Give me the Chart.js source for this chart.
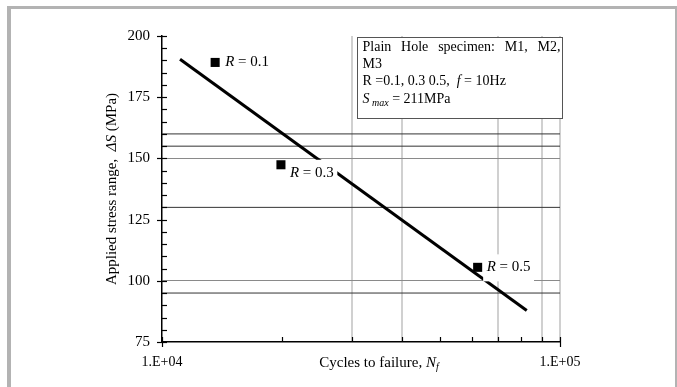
<!DOCTYPE html>
<html><head><meta charset="utf-8">
<script src="https://cdn.jsdelivr.net/npm/chart.js@4/dist/chart.umd.min.js"></script>
<style>html,body{margin:0;padding:0;background:#fff;overflow:hidden}#wrap{width:677px;height:387px;position:relative}</style>
</head><body><div id="wrap"><canvas id="c"></canvas></div>
<script>
// ---------------- data ----------------
const rRatios = [0.1, 0.3, 0.5];
const cyclesToFailure = [13600, 19900, 62100];
const stressRange = [189.2, 147.4, 105.5];
const fitCycles = [11100, 82500];
const fitStress = [190.5, 87.9];
const refLevels = [160, 155, 130, 95];
const gridLevels = [100, 150];
const xGridCycles = [30000, 40000, 70000, 90000, 100000];
const xLimits = [10000, 100000];
const yLimits = [75, 200];
const yTickStep = 25;
const yMinorStep = 5;
const xTickValues = [10000, 100000];
const xTickLabels = ['1.E+04', '1.E+05'];
const noteLine1 = 'Plain Hole specimen: M1, M2,';
const noteLine2 = 'M3';
const loadFrequencyHz = 10;
const sMaxMPa = 211;
const yTitleMain = 'Applied stress range,  ';
const xTitleMain = 'Cycles to failure, ';

// ---------------- style ----------------
const SERIF = '"Liberation Serif", "Times New Roman", serif';
const labelOffsets = [[10, 0], [9, 8], [9, 0]];

function fnt(s) { return (s.italic ? 'italic ' : '') + (s.size || 15) + 'px ' + SERIF; }
function measureRich(ctx, segs) {
  let w = 0;
  segs.forEach(s => { ctx.font = fnt(s); s.w = ctx.measureText(s.t).width; w += s.w; });
  return w;
}
function drawRich(ctx, segs, x, y, align) {
  const w = measureRich(ctx, segs);
  let cx = align === 'center' ? x - w / 2 : x;
  segs.forEach(s => { ctx.font = fnt(s); ctx.fillText(s.t, cx, y + (s.dy || 0)); cx += s.w; });
  return w;
}

const decor = {
  id: 'decor',
  beforeDraw(chart) {
    const ctx = chart.ctx;
    ctx.save();
    ctx.fillStyle = '#fff';
    ctx.fillRect(0, 0, chart.width, chart.height);
    ctx.fillStyle = '#b3b3b3';
    ctx.fillRect(7, 6, 670, 3);
    ctx.fillRect(7, 6, 4, 381);
    ctx.fillRect(675, 6, 2, 381);
    ctx.restore();
  },
  afterDatasetsDraw(chart) {
    const ctx = chart.ctx;
    const xs = chart.scales.x, ys = chart.scales.y;
    const x0 = xs.left, y0 = ys.bottom;
    ctx.save();
    // tick marks
    ctx.strokeStyle = '#000';
    ctx.lineWidth = 1.2;
    for (let v = yLimits[0]; v <= yLimits[1]; v += yMinorStep) {
      const p = Math.round(ys.getPixelForValue(v)) + 0.5;
      const major = v % yTickStep === 0;
      ctx.beginPath(); ctx.moveTo(major ? x0 - 5 : x0, p); ctx.lineTo(x0 + 5, p); ctx.stroke();
    }
    for (let k = 1; k <= 10; k++) {
      const v = k * xLimits[0];
      const p = Math.round(xs.getPixelForValue(v)) + 0.5;
      const major = xTickValues.includes(v);
      ctx.beginPath(); ctx.moveTo(p, major ? y0 + 5 : y0); ctx.lineTo(p, y0 - 5); ctx.stroke();
    }

    // R labels with white background
    ctx.textBaseline = 'middle';
    ctx.fillStyle = '#000';
    rRatios.forEach((r, i) => {
      const px = xs.getPixelForValue(cyclesToFailure[i]) + labelOffsets[i][0];
      const py = ys.getPixelForValue(stressRange[i]) + labelOffsets[i][1];
      const segs = [{ t: 'R', italic: true, size: 15 }, { t: ' = ' + r.toFixed(1), size: 15 }];
      const w = measureRich(ctx, segs);
      ctx.fillStyle = '#fff';
      ctx.fillRect(px - 3.5, py - 13, w + 7, 27);
      ctx.fillStyle = '#000';
      drawRich(ctx, segs, px, py, 'left');
    });

    // axis titles
    ctx.save();
    ctx.translate(112, (ys.top + ys.bottom) / 2);
    ctx.rotate(-Math.PI / 2);
    drawRich(ctx, [{ t: yTitleMain, size: 15 }, { t: 'ΔS', italic: true, size: 15 }, { t: ' (MPa)', size: 15 }], 0, 0, 'center');
    ctx.restore();
    ctx.textBaseline = 'alphabetic';
    drawRich(ctx, [{ t: xTitleMain, size: 15 }, { t: 'N', italic: true, size: 15 }, { t: 'f', italic: true, size: 10, dy: 3 }], 379, 367, 'center');

    // note box
    const bx = 357, by = 37, bw = 205, bh = 81;
    ctx.fillStyle = '#fff';
    ctx.fillRect(bx, by, bw, bh);
    ctx.strokeStyle = '#555';
    ctx.lineWidth = 1;
    ctx.strokeRect(bx + 0.5, by + 0.5, bw, bh);
    ctx.save();
    ctx.beginPath(); ctx.rect(bx + 1, by + 1, bw - 1, bh - 1); ctx.clip();
    ctx.fillStyle = '#000';
    const fs = 14;
    const left = bx + 5.5, right = bx + bw - 1.5;
    const words = noteLine1.split(' ');
    ctx.font = fnt({ size: fs });
    const ww = words.map(w => ctx.measureText(w).width);
    const gap = (right - left - ww.reduce((a, b) => a + b, 0)) / (words.length - 1);
    let cx = left;
    words.forEach((w, i) => { ctx.fillText(w, cx, 50.5); cx += ww[i] + gap; });
    ctx.fillText(noteLine2, left, 67.5);
    drawRich(ctx, [{ t: 'R =' + rRatios.map(r => r.toFixed(1)).join(', ').replace(', 0.5', ' 0.5') + ',  ', size: fs },
      { t: 'f', italic: true, size: fs }, { t: ' = ' + loadFrequencyHz + 'Hz', size: fs }], left, 85, 'left');
    drawRich(ctx, [{ t: 'S', italic: true, size: fs }, { t: ' max', italic: true, size: 10, dy: 3 },
      { t: ' = ' + sMaxMPa + 'MPa', size: fs }], left, 102.5, 'left');
    ctx.restore();
    ctx.restore();
  }
};

const datasets = [];
datasets.push({
  label: 'Test data', data: cyclesToFailure.map((x, i) => ({ x, y: stressRange[i] })),
  showLine: false, pointStyle: 'rect', pointRadius: 6.4, pointHoverRadius: 6.4,
  backgroundColor: '#000', borderColor: '#000', borderWidth: 0, order: 0
});
datasets.push({
  label: 'Fit', data: fitCycles.map((x, i) => ({ x, y: fitStress[i] })),
  borderColor: '#000', borderWidth: 3, pointRadius: 0, order: 1
});
refLevels.forEach(v => datasets.push({
  label: 'ref ' + v, data: [{ x: xLimits[0], y: v }, { x: xLimits[1], y: v }],
  borderColor: '#333', borderWidth: 1, pointRadius: 0, order: 2
}));

new Chart(document.getElementById('c'), {
  type: 'line',
  data: { datasets },
  plugins: [decor],
  options: {
    responsive: true, maintainAspectRatio: false, devicePixelRatio: 1, animation: false,
    layout: { padding: { left: 0, right: 117, top: 36, bottom: 0 } },
    plugins: { legend: { display: false }, tooltip: { enabled: false } },
    scales: {
      x: {
        type: 'logarithmic', min: xLimits[0], max: xLimits[1],
        afterFit: s => { s.height = 45; },
        grid: { drawTicks: false, lineWidth: 2,
          color: c => (c.tick && xGridCycles.includes(c.tick.value)) ? '#d0d0d0' : 'rgba(0,0,0,0)' },
        border: { display: true, color: '#000', width: 1.5 },
        ticks: { autoSkip: false, maxRotation: 0, minRotation: 0, padding: 12, color: '#000',
          font: { family: SERIF, size: 14 },
          callback: v => { const i = xTickValues.indexOf(v); return i >= 0 ? xTickLabels[i] : ''; } }
      },
      y: {
        type: 'linear', min: yLimits[0], max: yLimits[1],
        afterFit: s => { s.width = 162; },
        grid: { drawTicks: false, lineWidth: 1,
          color: c => (c.tick && gridLevels.includes(c.tick.value)) ? '#8a8a8a' : 'rgba(0,0,0,0)' },
        border: { display: true, color: '#000', width: 1.5 },
        ticks: { stepSize: yTickStep, padding: 12, color: '#000', font: { family: SERIF, size: 15 } }
      }
    }
  }
});
</script></body></html>
